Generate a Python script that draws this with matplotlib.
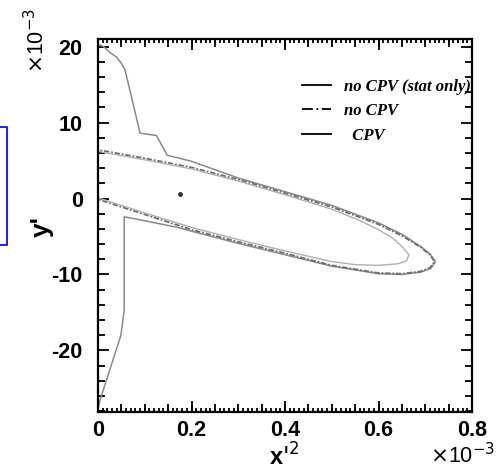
import matplotlib
matplotlib.use("Agg")
import matplotlib.pyplot as plt
from matplotlib.lines import Line2D
from matplotlib.ticker import MultipleLocator

# values in units of 1e-3
# noCPV (outer contour): upper edge then lower edge
nocpv_x = [-0.01, 0.0, 0.1, 0.2, 0.3, 0.4, 0.5, 0.6, 0.65, 0.69, 0.71, 0.72,
           0.71, 0.69, 0.65, 0.6, 0.5, 0.4, 0.3, 0.2, 0.1, 0.0, -0.01]
nocpv_y = [6.5, 6.4, 5.3, 4.1, 2.5, 0.7, -1.1, -3.4, -4.9, -6.4, -7.4, -8.3,
           -9.1, -9.6, -9.9, -9.8, -8.8, -7.2, -5.7, -4.1, -2.1, -0.1, 0.1]

# noCPV stat only (inner contour)
stat_x = [-0.01, 0.0, 0.1, 0.2, 0.3, 0.4, 0.5, 0.56, 0.6, 0.63, 0.65, 0.665,
          0.66, 0.64, 0.6, 0.55, 0.5, 0.4, 0.3, 0.2, 0.1, 0.0, -0.01]
stat_y = [6.3, 6.2, 5.1, 3.9, 2.3, 0.5, -1.4, -2.9, -4.1, -5.2, -6.3, -7.4,
          -8.2, -8.6, -8.8, -8.7, -8.3, -6.9, -5.4, -3.8, -1.9, 0.1, 0.3]

# CPV contour
cpv_x = [0.0, 0.012, 0.026, 0.04, 0.05, 0.058, 0.09, 0.125, 0.148, 0.2, 0.3,
         0.4, 0.5, 0.6, 0.65, 0.69, 0.71, 0.722, 0.712, 0.69, 0.65, 0.6, 0.5,
         0.4, 0.3, 0.2, 0.17, 0.09, 0.056, 0.056, 0.049, 0.004, 0.0]
cpv_y = [20.3, 20.0, 19.2, 18.6, 17.8, 16.9, 8.6, 8.3, 5.7, 4.9, 2.7,
         0.9, -0.9, -3.2, -4.7, -6.3, -7.3, -8.3, -9.2, -9.7, -10.0, -9.9, -8.9,
         -7.4, -5.9, -4.3, -3.8, -2.8, -2.4, -14.7, -18.0, -26.6, -27.8]

# best fit point
best_x = [0.175]
best_y = [0.65]

legend_labels = ["no CPV (stat only)", "no CPV", "  CPV"]

fig = plt.figure(figsize=(4.98, 4.75), dpi=100)
ax = fig.add_axes([98 / 498, 1 - 412 / 475, 374 / 498, 373 / 475])

ax.plot(cpv_x, cpv_y, color="#8a8a8a", lw=1.1)
ax.plot(nocpv_x, nocpv_y, color="#6e6e6e", lw=1.3, ls=(0, (3, 1, 1, 1)))
ax.plot(stat_x, stat_y, color="#b0b0b0", lw=1.0)
ax.plot(best_x, best_y, marker="o", ms=2.5, color="#333333", ls="none")

ax.set_xlim(0, 0.8)
ax.set_ylim(-28.1, 21.0)

ax.xaxis.set_minor_locator(MultipleLocator(0.01))
ax.yaxis.set_minor_locator(MultipleLocator(2))
ax.set_xticks([0, 0.2, 0.4, 0.6, 0.8], ["0", "0.2", "0.4", "0.6", "0.8"])
ax.set_yticks([-20, -10, 0, 10, 20], ["-20", "-10", "0", "10", "20"])
for lab in ax.get_xticklabels() + ax.get_yticklabels():
    lab.set_fontfamily("Liberation Sans")
    lab.set_fontweight("bold")
    lab.set_fontsize(15.5)
ax.tick_params(which="both", direction="in", top=True, right=True, width=1.3)
ax.tick_params(which="major", length=8)
ax.tick_params(axis="x", which="major", pad=6)
ax.tick_params(axis="y", which="major", pad=11)
ax.tick_params(axis="x", which="minor", length=3)
ax.tick_params(axis="y", which="minor", length=5)
for s in ax.spines.values():
    s.set_linewidth(1.6)

# medium ticks every 0.05 on bottom and top
for loc in ["bottom", "top"]:
    sec = ax.secondary_xaxis(loc)
    sec.set_xticks([i * 0.05 for i in range(17)])
    sec.tick_params(direction="in", length=5.5, width=1.3, labelbottom=False,
                    labeltop=False)
    sec.spines[loc].set_visible(False)

fig.text(284 / 498, 1 - 457 / 475, r"x$'^2$", ha="center", va="center",
         family="Liberation Sans", weight="bold", size=17)
fig.text(42 / 498, 1 - 227 / 475, "y'", ha="center", va="center", rotation=90,
         family="Liberation Sans", weight="bold", size=19)
fig.text(463 / 498, 1 - 456 / 475, r"$\times$10$^{-3}$", ha="center", va="center",
         family="Liberation Sans", size=15.5)
fig.text(37 / 498, 1 - 40 / 475, r"$\times$10$^{-3}$", ha="center", va="center",
         rotation=90, family="Liberation Sans", size=15.5)

handles = [Line2D([], [], color="black", lw=1.3),
           Line2D([], [], color="black", lw=1.3, ls=(0, (6, 2, 1, 2))),
           Line2D([], [], color="black", lw=1.3)]
ax.legend(handles, legend_labels, loc="upper left",
          bbox_to_anchor=(0.545, 0.893), frameon=False, borderpad=0,
          borderaxespad=0, handlelength=1.75, handletextpad=0.8,
          labelspacing=0.5,
          prop=dict(family="Liberation Serif", style="italic", weight="bold",
                    size=12))

# blue box fragment at left edge
fig.add_artist(Line2D([0, 7 / 498, 7 / 498, 0],
                      [1 - 127 / 475, 1 - 127 / 475, 1 - 245 / 475, 1 - 245 / 475],
                      color="#1a1aff", lw=1.4, transform=fig.transFigure))

fig.savefig("out.png", dpi=100)
